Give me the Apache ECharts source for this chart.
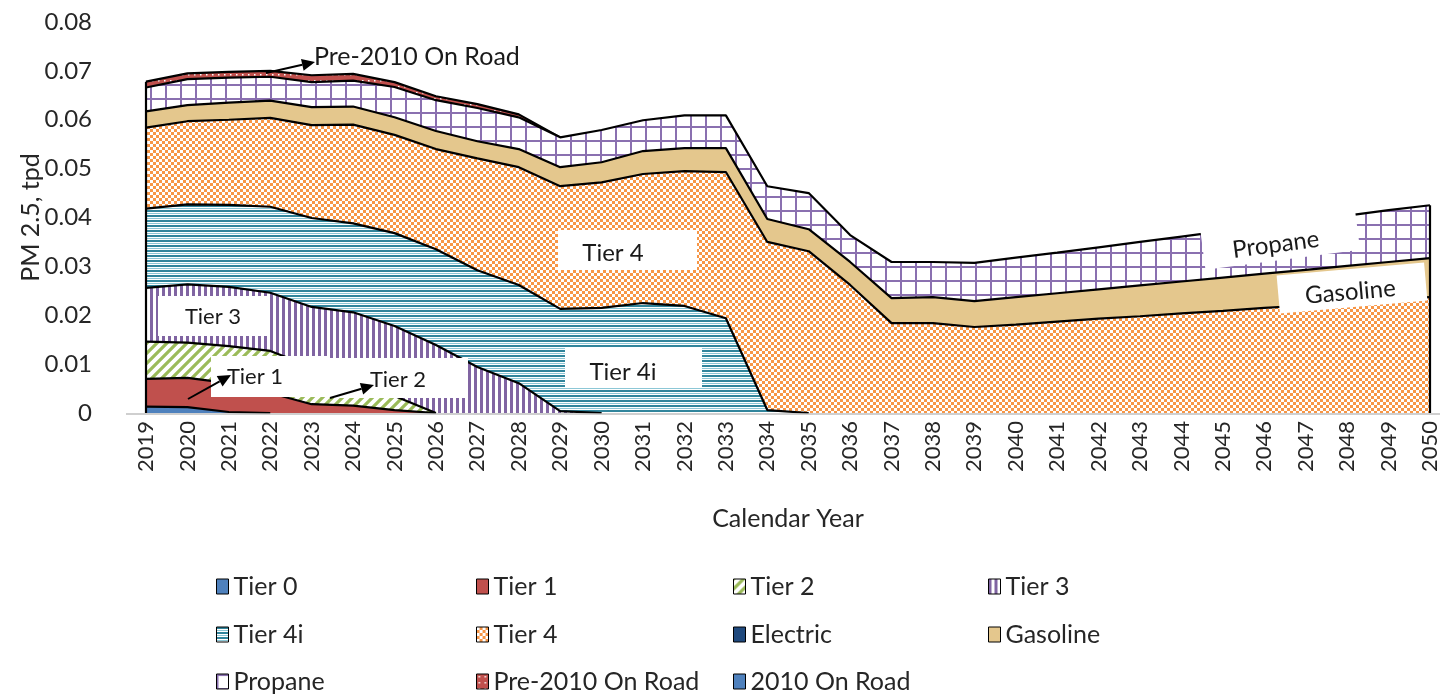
<!DOCTYPE html>
<html><head><meta charset="utf-8">
<script src="https://cdn.jsdelivr.net/npm/echarts@6/dist/echarts.min.js"></script>
<style>html,body{margin:0;padding:0;background:#fff}#c{width:1444px;height:700px}</style>
</head><body><div id="c"></div>
<script>
const years = ['2019','2020','2021','2022','2023','2024','2025','2026','2027','2028','2029','2030','2031','2032','2033','2034','2035','2036','2037','2038','2039','2040','2041','2042','2043','2044','2045','2046','2047','2048','2049','2050'];
const N = null;
const tier0   = [0.0013,0.0012,0.0002,0,N,N,N,N,N,N,N,N,N,N,N,N,N,N,N,N,N,N,N,N,N,N,N,N,N,N,N,N];
const tier1   = [0.0057,0.0060,0.0059,0.0041,0.0018,0.0015,0.0006,0,N,N,N,N,N,N,N,N,N,N,N,N,N,N,N,N,N,N,N,N,N,N,N,N];
const tier2   = [0.0076,0.0072,0.0076,0.0086,0.0076,0.0058,0.0029,0,N,N,N,N,N,N,N,N,N,N,N,N,N,N,N,N,N,N,N,N,N,N,N,N];
const tier3   = [0.0110,0.0119,0.0121,0.0119,0.0123,0.0133,0.0143,0.0139,0.0094,0.0061,0.0004,0,N,N,N,N,N,N,N,N,N,N,N,N,N,N,N,N,N,N,N,N];
const tier4i  = [0.0162,0.0164,0.0168,0.0176,0.0182,0.0182,0.0190,0.0196,0.0198,0.0201,0.0209,0.0215,0.0225,0.0219,0.0194,0.0006,0,N,N,N,N,N,N,N,N,N,N,N,N,N,N,N];
const tier4   = [0.0166,0.0170,0.0174,0.0182,0.0190,0.0202,0.0201,0.0205,0.0229,0.0241,0.0251,0.0257,0.0264,0.0276,0.0299,0.0344,0.0331,0.0262,0.0184,0.0184,0.0176,0.0181,0.0187,0.0193,0.0198,0.0204,0.0209,0.0215,0.0220,0.0226,0.0232,0.0237];
const electric= [0,0,0,0,0,0,0,0,0,0,0,0,0,0,0,0,0,0,0,0,0,0,0,0,0,0,0,0,0,0,0,0];
const gasoline= [0.0033,0.0033,0.0035,0.0035,0.0037,0.0037,0.0036,0.0037,0.0035,0.0037,0.0039,0.0041,0.0047,0.0047,0.0049,0.0047,0.0045,0.0047,0.0051,0.0053,0.0053,0.0056,0.0058,0.0060,0.0063,0.0065,0.0068,0.0070,0.0073,0.0075,0.0077,0.0080];
const propane = [0.0049,0.0053,0.0051,0.0049,0.0051,0.0053,0.0062,0.0063,0.0068,0.0065,0.0061,0.0066,0.0063,0.0067,0.0067,0.0067,0.0074,0.0055,0.0074,0.0072,0.0078,0.0081,0.0083,0.0086,0.0089,0.0092,0.0095,0.0098,0.0100,0.0103,0.0106,0.0108];
const pre2010 = [0.0012,0.0012,0.0012,0.0012,0.0014,0.0014,0.0010,0.0008,0.0008,0.0006,0,N,N,N,N,N,N,N,N,N,N,N,N,N,N,N,N,N,N,N,N,N];
const onroad2010 = [0,0,0,0,0,0,0,0,0,0,0,0,0,0,0,0,0,0,0,0,0,0,0,0,0,0,0,0,0,0,0,0];
const seriesNames = ['Tier 0','Tier 1','Tier 2','Tier 3','Tier 4i','Tier 4','Electric','Gasoline','Propane','Pre-2010 On Road','2010 On Road'];
const seriesData = [tier0,tier1,tier2,tier3,tier4i,tier4,electric,gasoline,propane,pre2010,onroad2010];

const FONT = 'Lato';
function pat(w,h,fn){const c=document.createElement('canvas');c.width=w;c.height=h;const g=c.getContext('2d');fn(g,w,h);return {image:c,repeat:'repeat'};}
const fills = {
  'Tier 0': '#4f81bd',
  'Tier 1': '#c0504d',
  'Tier 2': pat(10,10,g=>{g.fillStyle='#fff';g.fillRect(0,0,10,10);g.strokeStyle='#9bbb59';g.lineWidth=3.2;g.beginPath();g.moveTo(-5,5);g.lineTo(5,-5);g.moveTo(0,10);g.lineTo(10,0);g.moveTo(5,15);g.lineTo(15,5);g.stroke();}),
  'Tier 3': pat(6,6,g=>{g.fillStyle='#fff';g.fillRect(0,0,6,6);g.fillStyle='#8064a2';g.fillRect(0,0,3,6);}),
  'Tier 4i': pat(4,5,g=>{g.fillStyle='#fff';g.fillRect(0,0,4,5);g.fillStyle='#31859c';g.fillRect(0,0,4,2);g.fillStyle='#8cc7d6';g.fillRect(0,3,4,1);}),
  'Tier 4': pat(6,6,g=>{g.fillStyle='#f79646';g.fillRect(0,0,6,6);g.fillStyle='#fff';g.fillRect(0,0,3,3);g.fillRect(3,3,3,3);}),
  'Electric': '#1f497d',
  'Gasoline': '#e4c78d',
  'Propane': pat(15,14,g=>{g.fillStyle='#fff';g.fillRect(0,0,15,14);g.fillStyle='#8a70b0';g.fillRect(0,0,2,14);g.fillRect(0,0,15,2);}),
  'Pre-2010 On Road': pat(6,6,g=>{g.fillStyle='#c0504d';g.fillRect(0,0,6,6);g.fillStyle='#fff';g.fillRect(2,2,1.5,1.5);}),
  '2010 On Road': '#4f81bd'
};
const solids = {'Tier 0':'#4f81bd','Tier 1':'#c0504d','Tier 2':'#9bbb59','Tier 3':'#8064a2','Tier 4i':'#4bacc6','Tier 4':'#f79646','Electric':'#1f497d','Gasoline':'#e4c78d','Propane':'#8064a2','Pre-2010 On Road':'#c0504d','2010 On Road':'#4f81bd'};
const noLine = {'Electric':true,'2010 On Road':true};

const GRID = {left:146, right:14, top:22, bottom:287};
const chart = echarts.init(document.getElementById('c'), null, {renderer:'canvas'});

const legendCols = [216, 476, 733, 988];
const legendRows = [588, 636, 683];
const legends = seriesNames.map((n,k)=>({
  data:[{name:n, icon:'rect', itemStyle:{color:fills[n], borderColor:'#000', borderWidth:1}}],
  left: legendCols[k%4], top: legendRows[Math.floor(k/4)] - 14,
  itemWidth:12, itemHeight:15, itemGap:0, padding:0, selectedMode:false,
  textStyle:{fontSize:25, color:'#262626', fontFamily:FONT}
}));

const series = seriesNames.map((n,i)=>({
  name:n, type:'line', stack:'pm', data:seriesData[i], symbol:'none', showSymbol:false,
  z: 30 - i, silent:true,
  lineStyle:{color:'#000', width: noLine[n] ? 0 : 2.2},
  itemStyle:{color:solids[n]},
  areaStyle:{color:fills[n], opacity:1},
  emphasis:{disabled:true}
}));

chart.setOption({
  animation:false,
  backgroundColor:'#fff',
  grid:{left:GRID.left, right:GRID.right, top:GRID.top, bottom:GRID.bottom, containLabel:false},
  legend: legends,
  xAxis:{type:'category', data:years, boundaryGap:false,
    name:'Calendar Year', nameLocation:'middle', nameGap:93,
    nameTextStyle:{fontSize:25, color:'#262626', fontFamily:FONT},
    axisLine:{show:false}, axisTick:{show:false},
    axisLabel:{rotate:90, fontSize:22, color:'#262626', fontFamily:FONT, margin:8, interval:0}},
  yAxis:{type:'value', min:0, max:0.08, interval:0.01,
    name:'PM 2.5, tpd', nameLocation:'middle', nameGap:103, nameMoveOverlap:false,
    nameTextStyle:{fontSize:25, color:'#262626', fontFamily:FONT},
    splitLine:{show:false}, axisLine:{show:false}, axisTick:{show:false},
    axisLabel:{fontSize:24, color:'#262626', fontFamily:FONT, margin:54,
      formatter:v=> v===0 ? '0' : v.toFixed(2)}},
  series: series
});

// decorations: axis baseline, side edges, annotations
const totals = years.map((_,j)=>seriesData.reduce((s,a)=>s+(a[j]||0),0));
const p0 = chart.convertToPixel({gridIndex:0},[0,0]);
const pTopL = chart.convertToPixel({gridIndex:0},[0,totals[0]]);
const last = years.length-1;
const pR0 = chart.convertToPixel({gridIndex:0},[last,0]);
const pTopR = chart.convertToPixel({gridIndex:0},[last,totals[last]]);

function arrow(x1,y1,x2,y2){
  const a=Math.atan2(y2-y1,x2-x1), L=13, W=6;
  const bx=x2-L*Math.cos(a), by=y2-L*Math.sin(a);
  return [
    {type:'line', z:120, shape:{x1,y1,x2:bx,y2:by}, style:{stroke:'#000', lineWidth:2}},
    {type:'polygon', z:120, shape:{points:[[x2,y2],[bx+W*Math.sin(a),by-W*Math.cos(a)],[bx-W*Math.sin(a),by+W*Math.cos(a)]]}, style:{fill:'#000'}}
  ];
}
function box(x,y,w,h){return {type:'rect', z:110, shape:{x,y,width:w,height:h}, style:{fill:'#fff'}};}
function txt(t,x,y,size){return {type:'text', z:121, x, y, style:{text:t, fontSize:size, fontFamily:FONT, fill:'#1a1a1a', align:'center', verticalAlign:'middle'}};}
function rbox(cx,cy,w,h,deg,t,tx,ty,size){
  return {type:'group', x:cx, y:cy, rotation:deg*Math.PI/180, z:110, children:[
    {type:'rect', z:110, shape:{x:-w/2,y:-h/2,width:w,height:h}, style:{fill:'#fff'}},
    {type:'text', z:121, x:tx, y:ty, style:{text:t, fontSize:size, fontFamily:FONT, fill:'#1a1a1a', align:'center', verticalAlign:'middle'}}
  ]};
}

const g = [
  {type:'line', z:100, shape:{x1:126, y1:p0[1]+1, x2:1440, y2:p0[1]+1}, style:{stroke:'#bfbfbf', lineWidth:1.5}},
  {type:'line', z:105, shape:{x1:p0[0], y1:p0[1], x2:pTopL[0], y2:pTopL[1]}, style:{stroke:'#000', lineWidth:2.2}},
  {type:'line', z:105, shape:{x1:pR0[0], y1:pR0[1], x2:pTopR[0], y2:pTopR[1]}, style:{stroke:'#000', lineWidth:2.2}},
  box(158,296,110,40), txt('Tier 3',213,317,22),
  box(211,356,119,41), txt('Tier 1',255,377,22),
  box(330,358,138,40), txt('Tier 2',398,380,22),
  box(558,230,139,40), txt('Tier 4',613,253,24),
  box(565,348,137,39), txt('Tier 4i',623,372,24),
  rbox(1280,238,156,44,7.4,'Propane',-5,6,24),
  rbox(1352,288,148,38,5,'Gasoline',-2,4,24),
  {type:'text', z:121, x:314, y:57, style:{text:'Pre-2010 On Road', fontSize:25, fontFamily:FONT, fill:'#1a1a1a', align:'left', verticalAlign:'middle'}},
  ...arrow(266,73,315,62),
  ...arrow(188,399,231,375),
  ...arrow(330,398,374,385)
];
chart.setOption({graphic:{elements:g}});
</script></body></html>
